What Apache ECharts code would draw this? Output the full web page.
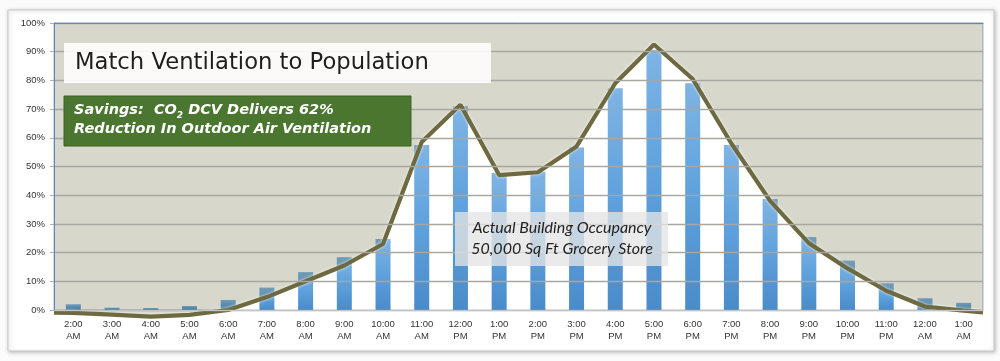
<!DOCTYPE html>
<html><head><meta charset="utf-8">
<script src="https://cdn.jsdelivr.net/npm/echarts@6/dist/echarts.min.js"></script>
<style>html,body{margin:0;padding:0;background:#fbfbfb;}#c{width:1000px;height:361px;}</style>
</head><body><div id="c"></div>
<script>
// ---- data ----
const hourLabels = ['2:00\nAM','3:00\nAM','4:00\nAM','5:00\nAM','6:00\nAM','7:00\nAM','8:00\nAM','9:00\nAM','10:00\nAM','11:00\nAM','12:00\nPM','1:00\nPM','2:00\nPM','3:00\nPM','4:00\nPM','5:00\nPM','6:00\nPM','7:00\nPM','8:00\nPM','9:00\nPM','10:00\nPM','11:00\nPM','12:00\nAM','1:00\nAM'];
const occupancy = [2.0,0.8,0.7,1.4,3.5,7.8,13.2,18.4,24.7,57.5,71,47.7,48.2,56.6,77.3,90.7,79,57.5,38.7,25.4,17.2,9.3,4.1,2.5];
const ventilation = [-1,-1.6,-2.3,-1.7,0,4.5,10,15.5,23,58.5,71.5,47,48,57,79,92.5,80.5,58,38,23.3,14.5,6.7,1.2,-0.2];
const ventilationEdges = [-0.9,-0.8]; // value of the ventilation line at the left / right plot edge
const yTickValues = [0,10,20,30,40,50,60,70,80,90,100];
const titleText = 'Match Ventilation to Population';
const savingsLines = ['Savings:  CO', '2', ' DCV Delivers 62%', 'Reduction In Outdoor Air Ventilation'];
const occupancyNote = ['Actual Building Occupancy','50,000 Sq Ft Grocery Store'];

// ---- build ----
const ventPoints = [[-0.5, ventilationEdges[0]]]
  .concat(ventilation.map((v,i)=>[i,v]))
  .concat([[hourLabels.length-0.5, ventilationEdges[1]]]);

const chart = echarts.init(document.getElementById('c'), null, {renderer:'canvas'});
chart.setOption({
  animation:false,
  backgroundColor:'#fbfbfb',
  grid:{left:54,right:17,top:23,bottom:51,show:true,backgroundColor:'#ffffff',borderColor:'#9fb3d3',borderWidth:1},
  xAxis:[{
    type:'category',data:hourLabels,boundaryGap:true,z:6,
    axisLine:{onZero:false,lineStyle:{color:'#c4c4c4',width:1}},
    axisTick:{length:4,lineStyle:{color:'#c4c4c4'}},
    axisLabel:{interval:0,fontSize:9.5,color:'#333',lineHeight:12,margin:8,fontFamily:'Liberation Sans'}
  },{
    type:'value',min:-0.5,max:hourLabels.length-0.5,position:'top',z:6,
    axisLine:{show:true,onZero:false,lineStyle:{color:'#5d86c4',width:1}},
    axisTick:{show:false},axisLabel:{show:false},splitLine:{show:false}
  }],
  yAxis:[{
    type:'value',min:yTickValues[0],max:yTickValues[yTickValues.length-1],interval:yTickValues[1]-yTickValues[0],z:6,
    axisLine:{show:true,onZero:false,lineStyle:{color:'#5d86c4',width:1}},
    axisTick:{show:true,length:4,lineStyle:{color:'#b0b0b0'}},
    axisLabel:{formatter:'{value}%',fontSize:9.5,color:'#333',margin:9,fontFamily:'Liberation Sans'},
    splitLine:{lineStyle:{color:'#a9a6a1',width:1.3}}
  }],
  series:[
    { // white wash under the ventilation curve
      type:'line',xAxisIndex:1,data:ventPoints,symbol:'none',silent:true,z:2,
      lineStyle:{width:0},areaStyle:{origin:'start',color:'#ffffff',opacity:0.62}
    },
    {
      type:'bar',xAxisIndex:0,data:occupancy,barWidth:15,z:3,
      itemStyle:{color:new echarts.graphic.LinearGradient(0,0,0,1,[{offset:0,color:'#7fb4e4'},{offset:0.5,color:'#5ea1dc'},{offset:1,color:'#4a8bca'}])}
    },
    { // tinted region above the ventilation curve
      type:'line',xAxisIndex:1,data:ventPoints,symbol:'none',silent:true,clip:false,z:4,
      lineStyle:{width:0},areaStyle:{origin:'end',color:'rgb(60,55,0)',opacity:0.2}
    },
    {
      type:'line',xAxisIndex:1,data:ventPoints,symbol:'none',clip:false,z:5,
      lineStyle:{color:'#6d6943',width:4.2,shadowColor:'rgba(255,255,235,0.9)',shadowBlur:3}
    }
  ],
  graphic:[
    {type:'rect',z:-1,shape:{x:8,y:10,width:986,height:341},style:{fill:'#ffffff',stroke:'#c9c9c9',lineWidth:1,shadowColor:'rgba(0,0,0,0.25)',shadowBlur:4,shadowOffsetX:1,shadowOffsetY:1}},
    {type:'rect',z:100,shape:{x:64,y:43,width:427,height:40},style:{fill:'rgba(255,255,255,0.88)'}},
    {type:'text',z:101,x:75,y:63,style:{text:titleText,fontSize:22.7,fontFamily:'DejaVu Sans',fill:'#1e1e1e',verticalAlign:'middle'}},
    {type:'rect',z:100,shape:{x:64,y:96,width:347,height:50},style:{fill:'#4a762f',stroke:'#3d6226',lineWidth:1}},
    {type:'text',z:101,x:74,y:120,style:{
      text:'{a|'+savingsLines[0]+'}{s|'+savingsLines[1]+'}{a|'+savingsLines[2]+'}\n{a|'+savingsLines[3]+'}',
      verticalAlign:'middle',
      rich:{a:{fontSize:14.5,fontWeight:'bold',fontStyle:'italic',fontFamily:'DejaVu Sans',fill:'#ffffff',color:'#ffffff',lineHeight:19},
            s:{fontSize:9,fontWeight:'bold',fontStyle:'italic',fontFamily:'DejaVu Sans',color:'#ffffff',fill:'#ffffff',lineHeight:19,verticalAlign:'bottom',padding:[6,0,0,0]}}
    }},
    {type:'rect',z:100,shape:{x:455,y:212,width:213,height:54},style:{fill:'rgba(228,228,228,0.78)'}},
    {type:'text',z:101,x:562,y:238,style:{text:occupancyNote.join('\n'),fontSize:16,fontStyle:'italic',fontFamily:'Lato',fill:'#222',align:'center',verticalAlign:'middle',lineHeight:21}}
  ]
});
</script></body></html>
